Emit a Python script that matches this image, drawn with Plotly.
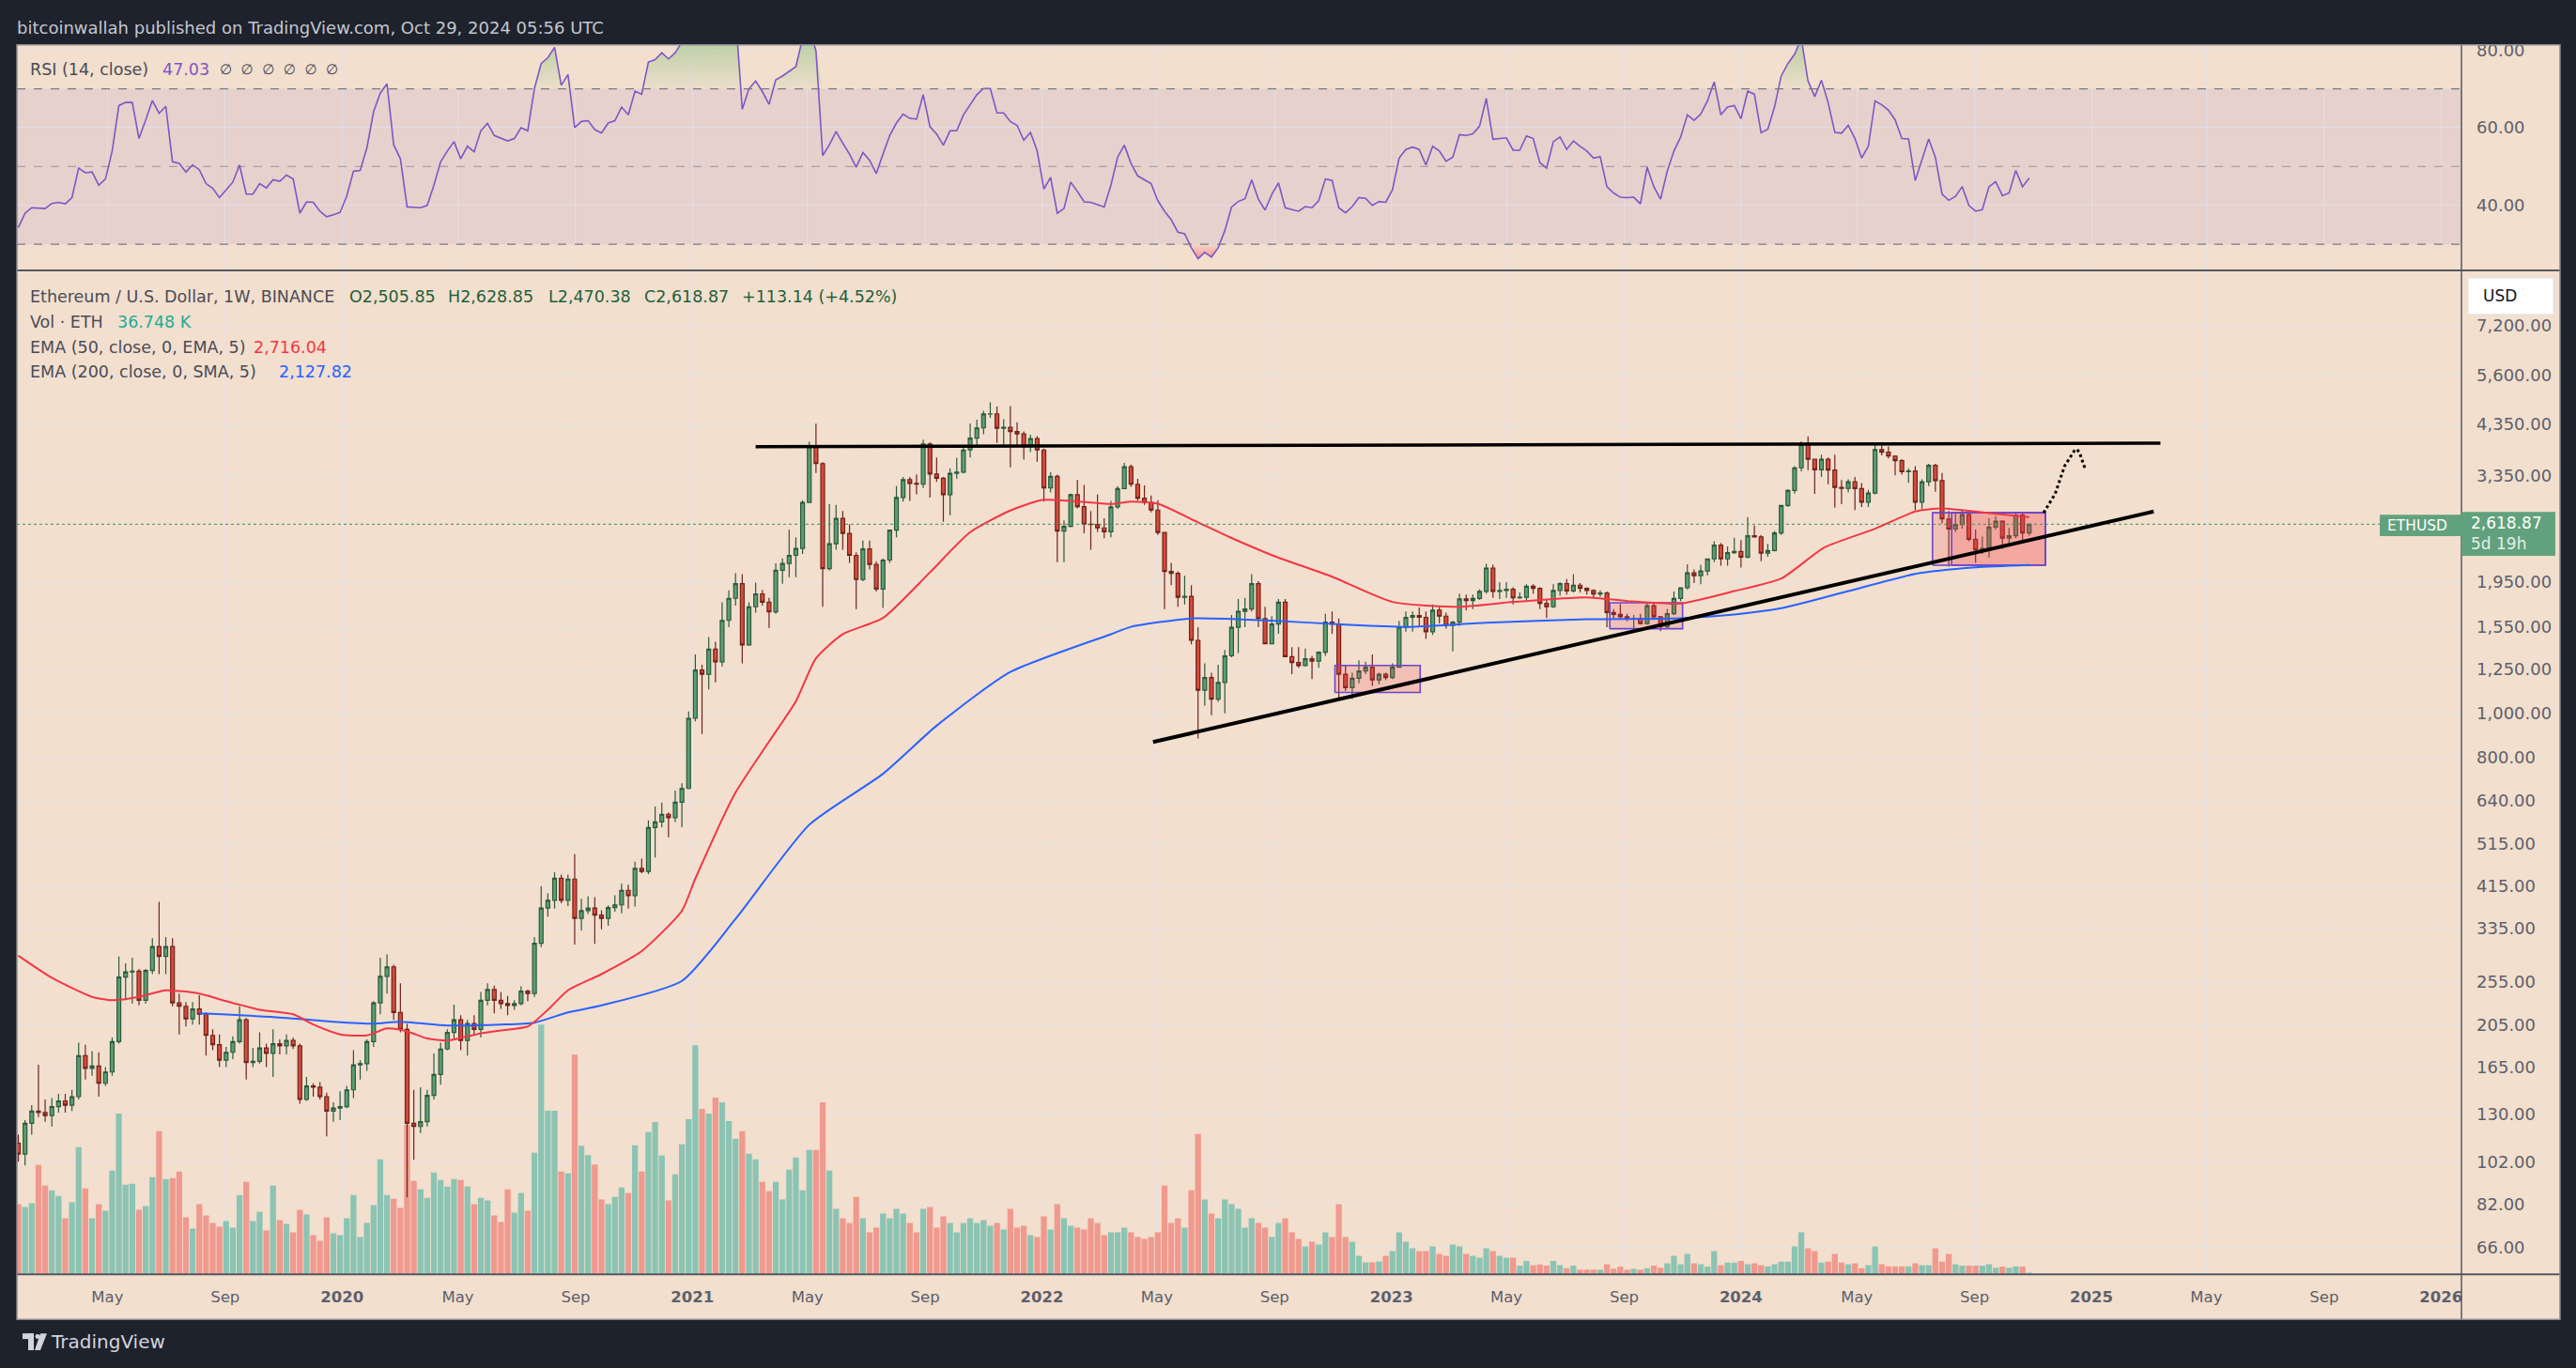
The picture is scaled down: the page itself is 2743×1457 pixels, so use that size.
import pandas as pd
import plotly.graph_objects as go

W, H = 2743, 1457

# ---------------- data ----------------
first_week = "2019-01-28"
first_open = 112

close = [
    106,124,132,131,129,135,139,136,142,175,164,166,152,161,188,261,268,269,232,270,305,290,305,229,225,211,222,216,194,185,171,178,188,210,169,170,182,177,186,184,189,184,140,150,149,142,132,134,135,
    147,167,168,188,229,262,275,218,200,124,122,125,143,159,181,197,210,189,206,200,232,245,232,228,226,228,243,240,310,371,386,432,386,430,352,366,371,358,352,372,377,406,395,454,447,559,575,598,588,636,682,975,
    1246,1220,1387,1300,1605,1796,1935,1417,1720,1837,1760,1676,2071,2145,2235,2316,2925,3890,3566,2088,2372,2698,2500,2235,1976,2310,2134,1883,2182,2541,3001,3286,3224,3210,3941,3380,3310,3045,3395,3415,3822,4060,4277,4590,4595,4270,4290,4200,4150,3890,4050,3822,
    3149,3340,2530,2590,3045,2864,2620,2615,2570,2520,2860,3140,3510,3210,2990,2925,2815,2510,2060,2040,1805,1815,1450,1125,1200,1075,1170,1340,1550,1680,1700,1935,1620,1425,1575,1760,1335,1295,1275,1320,1305,1365,1590,1575,1220,1140,1195,1240,1265,1185,1220,1200,
    1265,1550,1630,1645,1630,1515,1690,1640,1565,1590,1790,1775,1795,1860,2095,1860,1870,1880,1800,1805,1910,1890,1750,1720,1870,1935,1865,1920,1890,1870,1835,1845,1670,1655,1635,1615,1620,1580,1730,1635,1555,1660,1795,1895,2045,2015,2065,2195,2355,2195,2265,2280,
    2215,2470,2455,2260,2290,2505,2880,3110,3490,3925,3645,3455,3645,3450,3160,3145,3250,3140,2930,3070,3830,3780,3705,3620,3420,3435,2930,3250,3535,3270,2690,2555,2615,2750,2425,2300,2315,2580,2660,2440,2470,2745,2505.85,2618.87,
]
high = [
    117,126,136,167,140,141,144,144,147,187,185,179,178,165,192,290,280,288,272,272,318,383,320,318,240,230,230,238,218,200,195,183,193,225,212,182,197,186,200,190,195,192,186,157,152,153,145,138,146,
    150,180,171,190,231,288,293,278,253,206,147,149,147,177,187,200,227,215,210,215,242,253,250,242,237,232,249,245,320,415,400,445,440,440,488,389,394,392,367,376,396,420,418,470,477,580,622,635,604,675,700,1010,
    1350,1280,1475,1440,1760,1870,2040,2030,1760,1945,1875,1800,2145,2200,2550,2450,2960,3985,4372,3590,2900,2890,2800,2620,2270,2410,2410,2170,2200,2550,3180,3330,3330,3375,4030,3970,3680,3330,3480,3670,3900,4375,4460,4665,4870,4770,4470,4780,4400,4200,4130,4100,
    3850,3410,3370,2670,3060,3280,3200,2800,3050,2700,2950,3180,3580,3550,3300,3190,3030,2960,2520,2150,2060,2015,1920,1550,1290,1230,1280,1380,1650,1790,1800,2030,1960,1720,1640,1790,1790,1400,1400,1390,1340,1370,1660,1680,1620,1280,1230,1310,1300,1350,1230,1230,
    1290,1600,1680,1680,1715,1680,1740,1720,1670,1600,1840,1830,1830,1880,2140,2130,1950,1950,1900,1850,1930,1930,1900,1780,1930,1950,1980,2030,1940,1900,1880,1870,1860,1700,1745,1660,1650,1660,1750,1750,1640,1700,1860,1900,2135,2080,2130,2200,2400,2380,2340,2445,
    2415,2715,2600,2480,2370,2530,2890,3130,3520,3995,4095,3650,3730,3680,3730,3280,3290,3330,3230,3120,3950,3975,3890,3720,3650,3480,3520,3290,3560,3560,3400,2800,2790,2820,2780,2550,2460,2700,2730,2670,2570,2770,2770,2628.85,
]
low = [
    102,100,117,128,125,122,131,131,132,140,155,158,142,150,158,186,232,228,226,228,265,265,265,225,195,203,205,205,175,180,165,165,172,186,155,165,168,165,157,176,176,181,137,139,142,140,116,125,126,
    134,141,155,162,183,216,240,210,197,85,103,118,122,140,151,180,191,180,175,195,192,226,217,222,215,221,226,231,236,304,355,370,380,375,308,331,360,309,333,339,364,361,370,374,443,441,480,560,532,575,560,680,
    960,900,1130,1170,1270,1550,1730,1290,1410,1670,1730,1545,1660,1935,2000,2000,2250,2920,3400,1720,2070,2300,2300,2150,1700,1960,2080,1860,1710,2150,2450,2940,2950,3050,3150,3000,3250,2650,2740,3300,3390,3680,3900,4140,4500,3960,3920,3500,3900,3640,3780,3600,
    2940,3080,2160,2160,2580,2840,2500,2300,2520,2440,2450,2830,3130,3170,2950,2890,2780,2480,1700,1920,1720,1740,1420,880,1040,990,1060,1000,1330,1360,1550,1680,1550,1420,1420,1500,1330,1220,1260,1270,1190,1260,1340,1500,1075,1120,1075,1165,1220,1150,1160,1185,
    1190,1260,1515,1515,1560,1460,1490,1580,1540,1370,1560,1690,1700,1780,1840,1800,1790,1800,1740,1790,1780,1840,1700,1625,1710,1820,1830,1850,1850,1830,1800,1810,1550,1610,1620,1600,1530,1570,1570,1620,1520,1540,1650,1770,1880,1940,1930,2020,2160,2120,2120,2250,
    2100,2200,2450,2170,2220,2280,2480,2860,3060,3430,3450,3055,3330,3210,2850,2900,3080,2815,2860,2860,3050,3720,3660,3360,3370,3235,2810,2830,3180,3090,2630,2110,2520,2560,2400,2150,2250,2210,2550,2310,2350,2440,2390,2470.38,
]
volume_k = [
    1500,1440,1520,2340,1900,1800,1680,1200,1540,2720,1840,1200,1500,1360,2220,3440,1920,1940,1380,1460,2080,3060,2040,2060,2200,1220,980,1500,1260,1100,1020,1140,1000,1700,1980,1140,1340,940,1900,1160,1080,900,1380,1280,840,720,1220,880,840,
    1200,1700,800,1100,1480,2460,1700,1620,1420,3200,2000,1820,1640,2180,2020,1880,2040,2020,1880,1500,1640,1580,1260,1120,1820,1320,1740,1360,2600,5340,3500,3500,2200,2160,4700,2750,2550,2350,1600,1500,1660,1860,1740,2760,2200,3040,3260,2540,1580,2140,2780,3320,
    4900,3540,3440,3780,3680,3280,2900,3060,2580,2460,1980,1780,1980,1600,2240,2500,1800,2660,2660,3680,2220,1400,1200,1100,1660,1200,900,1000,1300,1200,1400,1300,1100,900,1400,1440,1000,1240,1100,900,1100,1200,1100,1160,1040,1100,960,1400,1000,1040,840,800,
    1240,960,1500,1200,1040,1000,960,1200,1100,840,900,900,1000,900,800,760,800,900,1900,1100,1200,1000,1800,3000,1600,1300,1200,1600,1500,1400,1000,1200,1100,1000,800,1100,1200,900,760,600,700,640,900,800,1500,800,700,400,260,260,280,400,
    500,900,700,560,500,500,600,440,400,640,600,440,400,360,560,500,400,360,360,186,286,200,214,186,286,200,134,186,100,100,100,100,220,120,166,100,120,100,134,186,140,240,400,220,440,240,220,166,500,200,254,254,
    286,220,240,200,174,220,274,274,600,900,560,500,254,274,440,254,220,240,134,200,600,220,174,174,174,174,240,200,200,560,274,440,220,186,186,186,186,220,140,166,140,174,166,36.748,
]
rsi = [
    34.3,38,39.4,39.3,39.2,40.5,40.8,40.4,42,49.6,48.4,48.6,45.2,46.8,54,65.7,66.5,66.5,57.2,62,67,63.7,65.5,51.2,50.8,48.6,50.4,49.2,45.6,44.4,42,44,46,50.4,42.9,42.9,45.6,44.5,46.6,46.2,47.8,46.8,38,40.9,40.8,38.5,37.1,37.6,38.2,
    42.4,48.8,49,54.8,64.1,68.9,71.3,55.6,52,39.6,39.5,39.4,40,45.2,51.2,54,56.4,52,55.2,53.8,59.2,61.1,58,57.2,56.6,57.2,60,59.2,70.1,76.5,78,80.7,70.9,73.7,60,61.6,61.8,59.5,58.6,61.2,61.8,65.3,63.3,69.4,68.6,76.9,77.5,79.3,77.7,79.3,82,88,
    91,89,90,86,88,89,89,64.7,70,72,69.3,66,72.3,73.3,74.5,75.7,83,86,79.7,52.8,55.6,59,56,53.2,49.8,53.6,51.6,48.2,53.2,58,61.2,63.5,62.4,62.2,68.5,60.3,58.4,55.5,59.2,59.2,63.3,65.9,68.5,70.1,70.1,63.8,63.8,61.6,60.6,56.8,58.8,54,
    44.2,47.2,38,39.2,46,43.6,40.9,40.8,40.2,39.6,45.2,52.4,55.5,50.8,47.6,46.6,45.6,41.2,38.5,36.3,33.1,32.7,29.1,26.3,27.9,26.7,29.1,33.5,39.6,41,41.7,46.6,41.6,38.8,42.8,45.8,39.4,38.9,38.5,39.7,39.4,41.2,46.8,46.4,39.4,38.1,39.7,42,41.8,40,41,40.8,
    44,52.2,54.4,55,54.4,50.4,55.2,54,51.4,52.4,58.2,58,58.4,60.4,67.5,57,57.2,57.4,54.2,54.2,57.9,57.2,51,49.6,56.4,57.6,54.4,56.6,55.2,54,52.2,52.5,44.8,43.2,42.1,42,42.1,40.4,49.8,44.8,41.6,48.8,54,57.6,63.3,61.9,63.5,66.9,71.8,63.3,65.3,65.7,
    62.3,69.4,68.6,58.7,59.6,65.3,73.3,76.5,78.9,83,72,68,72.2,66.5,58.8,58.6,60.6,57.2,52.2,55.2,66.9,65.9,64.5,62,57.2,57.1,46.4,52,57.1,52.4,42.9,41.3,42.3,44.8,40,38.5,38.9,44.8,46.1,42.5,43.2,49,44.8,47.03,
]
ema50_dates = ["2019-01-28","2019-03-04","2019-04-15","2019-05-06","2019-06-03","2019-07-01","2019-08-05","2019-09-02","2019-10-07","2019-11-11","2019-12-02","2019-12-30",
               "2020-01-27","2020-02-17","2020-03-09","2020-03-30","2020-04-20","2020-05-25","2020-06-15","2020-07-13","2020-08-03","2020-08-24","2020-09-28","2020-11-09","2020-12-21",
               "2021-01-04","2021-02-15","2021-03-22","2021-04-19","2021-05-10","2021-06-07","2021-07-19","2021-09-06","2021-10-18","2021-11-29",
               "2022-01-03","2022-03-14","2022-04-04","2022-05-02","2022-06-13","2022-07-18","2022-08-29","2022-10-31",
               "2023-01-02","2023-03-13","2023-05-08","2023-07-24","2023-09-04","2023-10-30","2023-12-25",
               "2024-02-12","2024-03-28","2024-05-20","2024-07-01","2024-07-29","2024-09-16","2024-10-28"]
ema50 = [291,260,236,232,236,244,240,231,221,216,205,195,194,201,198,191,189,196,199,203,221,244,265,298,366,431,668,866,1063,1323,1496,1625,2049,2515,2808,
         2965,2903,2939,2907,2643,2441,2238,2004,1763,1721,1763,1805,1771,1749,1863,1986,2326,2559,2794,2839,2771,2716.04]
ema200_dates = ["2019-08-05","2019-10-21","2019-12-23","2020-02-03","2020-03-02","2020-04-20","2020-06-15","2020-07-20","2020-08-24","2020-09-28","2020-12-21",
                "2021-02-15","2021-05-03","2021-07-19","2021-09-13","2021-11-29","2022-03-14","2022-04-04","2022-06-06","2022-08-29","2022-11-14",
                "2023-01-16","2023-04-10","2023-07-24","2023-10-23","2023-12-25","2024-02-12","2024-04-22","2024-07-01","2024-09-02","2024-10-28"]
ema200 = [217,213,208,206,208,204,205,207,218,226,256,351,567,735,939,1234,1496,1553,1621,1603,1570,1553,1585,1615,1621,1654,1707,1863,2033,2102,2127.82]

resist_dates = ["2021-03-08", "2025-03-14"]
resist_price = [3885, 3958]
support_dates = ["2022-04-27", "2025-03-07"]
support_price = [864, 2794]
proj_dates = ["2024-11-12","2024-11-24","2024-12-04","2024-12-14","2024-12-17","2024-12-20","2024-12-25"]
proj_price = [2776, 3053, 3523, 3803, 3837, 3748, 3490]
box_start = ["2022-11-03", "2023-08-17", "2024-07-19", "2024-08-08"]
box_end = ["2023-01-31", "2023-11-01", "2024-11-14", "2024-11-14"]
box_low = [1112, 1538, 2126, 2126]
box_high = [1276, 1756, 2776, 2776]

price_ticks = [7200, 5600, 4350, 3350, 1950, 1550, 1250, 1000, 800, 640, 515, 415, 335, 255, 205, 165, 130, 102, 82, 66]
rsi_ticks = [40, 60, 80]
time_ticks = ["2019-05-01","2019-09-01","2020-01-01","2020-05-01","2020-09-01","2021-01-01","2021-05-01","2021-09-01",
              "2022-01-01","2022-05-01","2022-09-01","2023-01-01","2023-05-01","2023-09-01","2024-01-01","2024-05-01",
              "2024-09-01","2025-01-01","2025-05-01","2025-09-01","2026-01-01"]
time_labels = ["May","Sep","2020","May","Sep","2021","May","Sep","2022","May","Sep","2023","May","Sep","2024","May","Sep","2025","May","Sep","2026"]

# ---------------- styling ----------------
FONT = "DejaVu Sans"
DARK = "#1e222d"
PEACH = "#f2dfce"
GRID = "rgba(226,228,242,0.65)"
UP_FILL, UP_LINE = "#5b9e73", "#2d5a3c"
DN_FILL, DN_LINE = "#d64b3b", "#6f241b"
AXIS_TXT = "#5d606b"

def px(x):
    return x / W

def py(y):
    return 1 - y / H

dates = pd.date_range(first_week, periods=len(close), freq="7D")
opens = [first_open] + close[:-1]
vol_colors = ["#8cc4b3" if c >= o else "#f0998e" for o, c in zip(opens, close)]

X_LEFT, X_RIGHT = "2019-01-26 12:00", "2026-01-22 10:00"

fig = go.Figure()

# volume (base axis y, bottom layer)
fig.add_trace(go.Bar(x=dates, y=volume_k, marker=dict(color=vol_colors, line=dict(width=0)),
                     xaxis="x", yaxis="y", hoverinfo="skip"))

# boxes
for xs, xe, lo, hi in zip(box_start, box_end, box_low, box_high):
    fig.add_trace(go.Scatter(x=[xs, xe, xe, xs, xs], y=[lo, lo, hi, hi, lo], mode="lines",
                             fill="toself", fillcolor="rgba(242,54,69,0.18)",
                             line=dict(color="#6a45c9", width=1.6), xaxis="x", yaxis="y2", hoverinfo="skip"))

# EMAs
fig.add_trace(go.Scatter(x=ema200_dates, y=ema200, mode="lines", line=dict(color="#2962ff", width=2, shape="spline", smoothing=0.6),
                         xaxis="x", yaxis="y2", hoverinfo="skip"))
fig.add_trace(go.Scatter(x=ema50_dates, y=ema50, mode="lines", line=dict(color="#f23645", width=2, shape="spline", smoothing=0.6),
                         xaxis="x", yaxis="y2", hoverinfo="skip"))

# current price dotted line
fig.add_trace(go.Scatter(x=[X_LEFT, X_RIGHT], y=[close[-1], close[-1]], mode="lines",
                         line=dict(color="#3f8d63", width=1, dash="dot"), xaxis="x", yaxis="y2", hoverinfo="skip"))

# candles
fig.add_trace(go.Candlestick(x=dates, open=opens, high=high, low=low, close=close,
                             increasing=dict(fillcolor=UP_FILL, line=dict(color=UP_LINE, width=1.2)),
                             decreasing=dict(fillcolor=DN_FILL, line=dict(color=DN_LINE, width=1.2)),
                             whiskerwidth=0, xaxis="x", yaxis="y2", hoverinfo="skip"))

# trend lines
fig.add_trace(go.Scatter(x=resist_dates, y=resist_price, mode="lines", line=dict(color="#000000", width=3.5),
                         xaxis="x", yaxis="y2", hoverinfo="skip"))
fig.add_trace(go.Scatter(x=support_dates, y=support_price, mode="lines", line=dict(color="#000000", width=4),
                         xaxis="x", yaxis="y2", hoverinfo="skip"))
fig.add_trace(go.Scatter(x=proj_dates, y=proj_price, mode="lines", line=dict(color="#000000", width=3, dash="dot"),
                         xaxis="x", yaxis="y2", hoverinfo="skip"))

# RSI fills + line
ob = [max(v, 70) for v in rsi]
os_ = [min(v, 30) for v in rsi]
fig.add_trace(go.Scatter(x=dates, y=[70] * len(rsi), mode="lines", line=dict(width=0), xaxis="x", yaxis="y3", hoverinfo="skip"))
fig.add_trace(go.Scatter(x=dates, y=ob, mode="lines", line=dict(width=0), fill="tonexty",
                         fillgradient=dict(type="vertical", colorscale=[[0, "rgba(76,175,80,0.03)"], [1, "rgba(76,175,80,0.55)"]]),
                         xaxis="x", yaxis="y3", hoverinfo="skip"))
fig.add_trace(go.Scatter(x=dates, y=[30] * len(rsi), mode="lines", line=dict(width=0), xaxis="x", yaxis="y3", hoverinfo="skip"))
fig.add_trace(go.Scatter(x=dates, y=os_, mode="lines", line=dict(width=0), fill="tonexty",
                         fillgradient=dict(type="vertical", colorscale=[[0, "rgba(242,54,69,0.45)"], [1, "rgba(242,54,69,0.03)"]]),
                         xaxis="x", yaxis="y3", hoverinfo="skip"))
fig.add_trace(go.Scatter(x=dates, y=rsi, mode="lines", line=dict(color="#7e57c2", width=1.6),
                         xaxis="x", yaxis="y3", hoverinfo="skip"))

# ---------------- shapes ----------------
shapes = []
# peach chart canvas
shapes.append(dict(type="rect", xref="paper", yref="paper", x0=px(18), x1=px(2727), y0=py(1405), y1=py(43),
                   fillcolor=PEACH, line=dict(width=0), layer="below"))
# RSI band and levels
shapes.append(dict(type="rect", xref="x domain", yref="y3", x0=0, x1=1, y0=30, y1=70,
                   fillcolor="rgba(126,87,194,0.10)", line=dict(width=0), layer="below"))
for lvl, col in [(70, "#787b86"), (50, "rgba(120,123,134,0.55)"), (30, "#787b86")]:
    shapes.append(dict(type="line", xref="x domain", yref="y3", x0=0, x1=1, y0=lvl, y1=lvl,
                       line=dict(color=col, width=1.2, dash="dash"), layer="above"))
# header strip (clips the top axis label like the original)
shapes.append(dict(type="rect", xref="paper", yref="paper", x0=0, x1=1, y0=py(43), y1=1,
                   fillcolor=DARK, line=dict(width=0), layer="above"))
# price-scale column under the time axis (clips the last time label)
shapes.append(dict(type="rect", xref="paper", yref="paper", x0=px(2623), x1=px(2726), y0=py(1404), y1=py(1358),
                   fillcolor=PEACH, line=dict(width=0), layer="above"))
# separators / frame
sep = "#55575f"
shapes.append(dict(type="line", xref="paper", yref="paper", x0=px(18), x1=px(2727), y0=py(284), y1=py(284), line=dict(color=sep, width=2)))
shapes.append(dict(type="line", xref="paper", yref="paper", x0=px(18), x1=px(2727), y0=py(1357), y1=py(1357), line=dict(color=sep, width=2)))
shapes.append(dict(type="line", xref="paper", yref="paper", x0=px(2622), x1=px(2622), y0=py(1405), y1=py(43), line=dict(color=sep, width=1.5)))
shapes.append(dict(type="rect", xref="paper", yref="paper", x0=px(18), x1=px(2727), y0=py(1405), y1=py(43),
                   line=dict(color="#8a8b90", width=1.5)))
# USD box
shapes.append(dict(type="rect", xref="paper", yref="paper", x0=px(2629), x1=px(2720), y0=py(331), y1=py(292),
                   fillcolor="#ffffff", line=dict(color="#e0e3eb", width=1)))
# price tags
TAG = "#62a17d"
shapes.append(dict(type="rect", xref="paper", yref="paper", x0=px(2622), x1=px(2722), y0=py(589), y1=py(542),
                   fillcolor=TAG, line=dict(width=0)))
shapes.append(dict(type="rect", xref="paper", yref="paper", x0=px(2535), x1=px(2622), y0=py(568), y1=py(545),
                   fillcolor=TAG, line=dict(width=0)))
# TradingView logo (simplified)
LOGO = "#d1d4dc"
shapes.append(dict(type="rect", xref="paper", yref="paper", x0=px(24), x1=px(36), y0=py(1426), y1=py(1420), fillcolor=LOGO, line=dict(width=0)))
shapes.append(dict(type="rect", xref="paper", yref="paper", x0=px(30), x1=px(36), y0=py(1438), y1=py(1420), fillcolor=LOGO, line=dict(width=0)))
shapes.append(dict(type="circle", xref="paper", yref="paper", x0=px(37.5), x1=px(42.5), y0=py(1426), y1=py(1421), fillcolor=LOGO, line=dict(width=0)))
shapes.append(dict(type="path", xref="paper", yref="paper",
                   path=f"M {px(43)} {py(1420)} L {px(50)} {py(1420)} L {px(43)} {py(1438)} L {px(37)} {py(1438)} Z",
                   fillcolor=LOGO, line=dict(width=0)))

# ---------------- annotations ----------------
ann = []

def text(x, y, s, color, size=17):
    ann.append(dict(x=px(x), y=py(y), xref="paper", yref="paper", xanchor="left", yanchor="middle",
                    text=s, showarrow=False, font=dict(family=FONT, size=size, color=color)))

text(16, 25, "bitcoinwallah published on TradingView.com, Oct 29, 2024 05:56 UTC", "#c3c6ce", 18)
text(30, 69, "RSI (14, close)", "#4a4c55", 17.5)
text(171, 69, "47.03", "#7e57c2", 17.5)
text(232, 69, "∅  ∅  ∅  ∅  ∅  ∅", "#4a4c55", 15)
GREENTXT = "#1f5f3a"
text(30, 312, "Ethereum / U.S. Dollar, 1W, BINANCE", "#4a4c55", 17.5)
text(370, 312, "O2,505.85", GREENTXT, 17.5)
text(475, 312, "H2,628.85", GREENTXT, 17.5)
text(582, 312, "L2,470.38", GREENTXT, 17.5)
text(684, 312, "C2,618.87", GREENTXT, 17.5)
text(788, 312, "+113.14 (+4.52%)", GREENTXT, 17.5)
text(30, 339, "Vol · ETH", "#4a4c55", 17.5)
text(123, 339, "36.748 K", "#22ab94", 17.5)
text(30, 366, "EMA (50, close, 0, EMA, 5)", "#4a4c55", 17.5)
text(268, 366, "2,716.04", "#f23645", 17.5)
text(30, 392, "EMA (200, close, 0, SMA, 5)", "#4a4c55", 17.5)
text(295, 392, "2,127.82", "#2962ff", 17.5)
text(2643, 311, "USD", "#131722", 17)
text(2630, 554, f"{close[-1]:,.2f}", "#ffffff", 17)
text(2630, 576, "5d 19h", "rgba(255,255,255,0.85)", 17)
text(2541, 557, "ETHUSD", "#ffffff", 15.5)
text(52, 1429, "TradingView", "#d1d4dc", 20)

ticktext_x = [f"<b>{t}</b>" if t.isdigit() else t for t in time_labels]

fig.update_layout(
    width=W, height=H, autosize=False,
    margin=dict(l=0, r=0, t=0, b=0),
    paper_bgcolor=DARK, plot_bgcolor="rgba(0,0,0,0)",
    showlegend=False, hovermode=False, bargap=0.12, boxgap=0.2,
    shapes=shapes, annotations=ann,
    xaxis=dict(domain=[px(18), px(2622)], type="date", range=[X_LEFT, X_RIGHT], anchor="y",
               tickmode="array", tickvals=time_ticks, ticktext=ticktext_x,
               tickfont=dict(family=FONT, size=16.5, color=AXIS_TXT), ticks="", ticklabelstandoff=12,
               showgrid=True, gridcolor=GRID, gridwidth=1, zeroline=False, showline=False,
               rangeslider=dict(visible=False)),
    yaxis=dict(domain=[py(1357), py(284)], range=[0, 1073 * 20], visible=False, showgrid=False, zeroline=False),
    yaxis2=dict(overlaying="y", type="log", range=[1.75918, 3.97932], side="right", anchor="x",
                tickmode="array", tickvals=price_ticks, ticktext=[f"{v:,.2f}" for v in price_ticks],
                tickfont=dict(family=FONT, size=18, color=AXIS_TXT), ticks="", ticklabelstandoff=15,
                showgrid=True, gridcolor=GRID, gridwidth=1, zeroline=False, showline=False),
    yaxis3=dict(domain=[py(283), py(43)], range=[23.5, 81.3], side="right", anchor="x",
                tickmode="array", tickvals=rsi_ticks, ticktext=[f"{v:.2f}" for v in rsi_ticks],
                tickfont=dict(family=FONT, size=18, color=AXIS_TXT), ticks="", ticklabelstandoff=15,
                showgrid=True, gridcolor=GRID, gridwidth=1, zeroline=False, showline=False),
)

fig.write_html("out.html", config={"displayModeBar": False},
               post_script="document.body.style.margin='0px';document.body.style.background='#1e222d';"
                           "document.body.style.overflow='hidden';")
